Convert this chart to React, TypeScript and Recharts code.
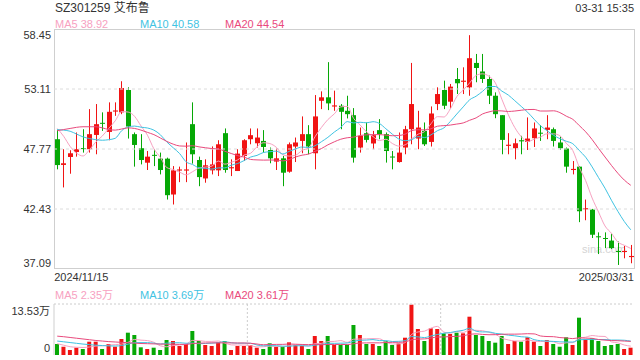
import React from "react";
import { ComposedChart, Bar, Line, XAxis, YAxis, ReferenceLine, CartesianGrid, Cell } from "recharts";

const RED = "#f01414";
const GREEN = "#06a806";
const MA5_COLOR = "#f7a1c1";
const MA10_COLOR = "#3fc3e2";
const MA20_COLOR = "#e94a7d";
const FONT = "Arial, 'Liberation Sans', 'Noto Sans CJK SC', sans-serif";

// trading days per month
const nov = [15, 18, 19, 20, 21, 22, 25, 26, 27, 28, 29];
const dec = [2, 3, 4, 5, 6, 9, 10, 11, 12, 13, 16, 17, 18, 19, 20, 23, 24, 25, 26, 27, 30, 31];
const jan = [2, 3, 6, 7, 8, 9, 10, 13, 14, 15, 16, 17, 20, 21, 22, 23, 24, 27];
const feb = [5, 6, 7, 10, 11, 12, 13, 14, 17, 18, 19, 20, 21, 24, 25, 26, 27, 28];
const mar = [3, 4, 5, 6, 7, 10, 11, 12, 13, 14, 17, 18, 19, 20, 21, 24, 25, 26, 27, 28, 31];

const pad = (d: number) => String(d).padStart(2, "0");
const dates = [
  ...nov.map((d) => `2024/11/${pad(d)}`),
  ...dec.map((d) => `2024/12/${pad(d)}`),
  ...jan.map((d) => `2025/01/${pad(d)}`),
  ...feb.map((d) => `2025/02/${pad(d)}`),
  ...mar.map((d) => `2025/03/${pad(d)}`),
];

const opens = [
  48.64, 46.35, 47.06, 47.5, 47.85, 47.75, 49.02, 50.1, 49.29, 51.1,
  51.03, 53.02, 49.09, 47.84, 46.55, 47.25, 46.91, 46.91, 43.72, 45.85,
  45.85, 49.98, 46.79, 45.15, 45.87, 45.87, 49.18, 46.05, 45.81, 47.15,
  48.64, 48.28, 48.49, 47.68, 46.65, 46.94, 45.75, 47.99, 48.49, 49.09,
  47.39, 52.06, 52.37, 51.55, 51.62, 51.17, 50.78, 47.9, 49.18, 48.26,
  49.45, 49.09, 47.1, 46.61, 47.9, 49.53, 48.7, 49.38, 48.4, 51.77,
  53.02, 51.98, 54.0, 53.75, 53.26, 55.43, 54.67, 54.0, 52.51, 50.78,
  48.05, 47.84, 48.55, 48.4, 48.73, 49.22, 49.47, 49.53, 48.35, 47.81,
  45.9, 46.2, 42.4, 42.38, 40.0, 39.85, 39.62, 38.7, 38.6, 38.15,
];
const highs = [
  49.5, 47.75, 47.66, 49.24, 49.53, 51.32, 51.77, 51.03, 51.92, 51.92,
  53.8, 53.26, 49.24, 49.09, 47.59, 47.75, 47.45, 47.0, 46.25, 46.2,
  48.35, 51.92, 47.09, 46.85, 48.0, 48.55, 49.6, 46.85, 47.75, 48.64,
  49.6, 49.6, 49.45, 47.9, 47.81, 47.15, 48.35, 48.79, 50.67, 49.89,
  52.57, 52.9, 55.5, 52.96, 51.77, 52.51, 51.41, 49.68, 50.13, 49.38,
  50.43, 49.24, 47.59, 49.24, 49.83, 55.43, 51.17, 50.13, 51.56, 53.26,
  53.85, 53.56, 54.98, 55.04, 57.9, 56.23, 56.23, 54.3, 52.81, 50.78,
  49.18, 48.7, 48.94, 50.58, 50.13, 49.89, 50.78, 49.68, 48.88, 47.9,
  46.7, 46.25, 43.27, 42.44, 40.35, 40.35, 40.23, 39.53, 39.14, 39.23,
];
const lows = [
  45.96, 44.35, 45.57, 47.09, 47.45, 47.45, 47.3, 49.38, 48.55, 50.72,
  50.87, 48.7, 46.2, 46.4, 45.9, 46.25, 45.51, 43.27, 42.83, 44.82,
  44.82, 46.47, 44.46, 44.77, 45.51, 45.36, 45.66, 45.36, 45.81, 46.7,
  48.19, 47.9, 47.45, 46.5, 45.9, 44.46, 45.66, 46.61, 47.39, 47.3,
  45.96, 51.32, 51.23, 51.17, 49.53, 50.49, 46.56, 47.45, 48.35, 47.75,
  48.64, 46.56, 45.96, 46.56, 47.3, 48.19, 47.75, 48.04, 47.99, 51.23,
  51.32, 51.38, 52.66, 52.66, 52.51, 53.71, 53.65, 51.77, 50.51, 47.3,
  47.3, 46.85, 47.3, 47.68, 47.95, 48.49, 48.64, 47.99, 47.68, 45.66,
  45.51, 41.26, 41.43, 39.85, 38.42, 38.95, 38.86, 37.45, 38.04, 37.6,
];
const closes = [
  46.34, 46.5, 47.39, 47.75, 47.78, 49.09, 49.98, 50.05, 51.08, 51.2,
  53.2, 49.77, 48.13, 46.79, 47.09, 47.18, 45.9, 43.66, 45.87, 45.95,
  45.95, 47.3, 45.27, 46.32, 46.4, 48.19, 45.9, 46.15, 47.36, 48.55,
  49.0, 48.79, 47.95, 46.94, 46.94, 45.66, 48.19, 48.35, 49.09, 47.99,
  50.67, 52.37, 51.83, 51.65, 51.08, 50.87, 47.0, 48.94, 48.58, 49.0,
  49.09, 47.59, 47.03, 47.45, 49.53, 51.77, 49.68, 48.19, 50.93, 52.66,
  51.62, 53.32, 53.62, 53.85, 55.85, 54.98, 54.0, 52.51, 50.87, 48.58,
  48.15, 48.28, 48.45, 48.7, 49.6, 49.15, 49.68, 48.49, 47.84, 46.2,
  46.0, 42.23, 42.5, 40.14, 39.95, 39.8, 38.95, 38.6, 38.7, 38.25,
];

const ma5 = [
  49.6, 48.9, 48.0, 47.4, 47.15, 47.7, 48.4, 48.93, 49.6, 50.28,
  51.1, 51.06, 50.68, 49.82, 49.0, 47.79, 47.02, 46.12, 45.94, 45.71,
  45.47, 45.75, 46.07, 46.16, 46.25, 46.7, 46.42, 46.59, 46.8, 47.23,
  47.39, 47.97, 48.33, 48.25, 47.92, 47.26, 47.14, 47.22, 47.65, 47.86,
  48.86, 49.69, 50.39, 50.9, 51.52, 51.56, 50.49, 49.91, 49.29, 48.88,
  48.52, 48.64, 48.26, 48.03, 48.14, 48.67, 49.09, 49.32, 50.02, 50.65,
  50.62, 51.34, 52.43, 53.01, 53.65, 54.32, 54.46, 54.24, 53.64, 52.19,
  50.82, 49.68, 48.87, 48.43, 48.64, 48.84, 49.12, 49.12, 48.95, 48.27,
  47.64, 46.15, 44.95, 43.41, 42.16, 40.92, 40.27, 39.49, 39.2, 38.92,
];
const ma10 = [
  49.5, 49.45, 49.35, 49.1, 48.85, 48.7, 48.6, 48.55, 48.6, 48.72,
  49.4, 49.73, 49.81, 49.71, 49.64, 49.45, 49.04, 48.4, 47.88, 47.36,
  46.63, 46.39, 46.1, 46.05, 45.98, 46.09, 46.09, 46.33, 46.48, 46.74,
  47.05, 47.2, 47.46, 47.53, 47.58, 47.33, 47.56, 47.78, 47.95, 47.89,
  48.06, 48.42, 48.81, 49.28, 49.69, 50.21, 50.09, 50.15, 50.1, 50.2,
  50.04, 49.57, 49.09, 48.66, 48.51, 48.6, 48.87, 48.79, 49.03, 49.4,
  49.65, 50.22, 50.88, 51.52, 52.15, 52.47, 52.9, 53.34, 53.33, 52.92,
  52.57, 52.07, 51.56, 51.04, 50.42, 49.83, 49.4, 49.0, 48.69, 48.46,
  48.24, 47.64, 47.04, 46.18, 45.22, 44.28, 43.21, 42.22, 41.31, 40.58,
];
const ma20 = [
  49.4, 49.5, 49.6, 49.7, 49.75, 49.75, 49.75, 49.65, 49.5, 49.45,
  49.55, 49.65, 49.6, 49.45, 49.25, 49.05, 48.75, 48.45, 48.2, 48.04,
  48.02, 48.06, 47.96, 47.88, 47.81, 47.77, 47.57, 47.37, 47.18, 47.05,
  46.84, 46.8, 46.78, 46.79, 46.78, 46.71, 46.83, 47.06, 47.22, 47.32,
  47.56, 47.81, 48.14, 48.41, 48.64, 48.77, 48.83, 48.97, 49.03, 49.05,
  49.05, 49.0, 48.95, 48.97, 49.1, 49.41, 49.48, 49.47, 49.57, 49.8,
  49.85, 49.9, 49.99, 50.09, 50.33, 50.54, 50.89, 51.07, 51.18, 51.16,
  51.11, 51.15, 51.22, 51.28, 51.29, 51.15, 51.15, 51.17, 51.01, 50.69,
  50.41, 49.86, 49.3, 48.61, 47.82, 47.06, 46.31, 45.61, 45.0, 44.54,
];

// volume in 万
const volumes = [
  2.92, 2.2, 1.33, 1.94, 1.59, 3.53, 3.53, 1.59, 2.92, 2.2,
  4.24, 5.92, 5.31, 2.04, 1.59, 1.94, 1.33, 3.98, 3.71, 2.39,
  2.92, 6.37, 3.71, 2.65, 2.39, 3.36, 3.71, 1.33, 2.39, 2.39,
  2.65, 1.94, 1.59, 3.1, 2.2, 2.2, 3.36, 2.65, 2.39, 1.59,
  5.04, 3.71, 5.04, 2.65, 2.65, 2.65, 7.96, 5.31, 2.92, 2.92,
  2.39, 3.71, 2.65, 3.1, 4.59, 13.35, 6.9, 3.71, 7.08, 6.9,
  5.75, 5.57, 5.92, 5.75, 10.16, 5.31, 5.04, 3.71, 3.27, 5.04,
  2.92, 3.71, 3.53, 4.7, 3.53, 2.39, 3.98, 2.92, 2.2, 4.7,
  2.65, 9.9, 4.16, 4.43, 3.71, 2.39, 2.65, 2.92, 1.59, 1.94,
];
const volMa5 = [
  3.0, 2.6, 2.2, 2.05, 2.0, 2.12, 2.38, 2.44, 2.63, 2.75,
  2.9, 3.37, 4.12, 3.94, 3.82, 3.36, 2.44, 2.18, 2.51, 2.67,
  2.87, 3.87, 3.82, 3.61, 3.61, 3.7, 3.16, 2.69, 2.64, 2.64,
  2.49, 2.14, 2.19, 2.33, 2.3, 2.21, 2.49, 2.7, 2.56, 2.44,
  3.01, 3.08, 3.55, 3.61, 3.82, 3.34, 4.19, 4.24, 4.3, 4.35,
  4.3, 3.45, 2.92, 2.95, 3.29, 5.48, 6.12, 6.33, 7.13, 7.59,
  6.07, 5.8, 6.24, 5.98, 6.63, 6.54, 6.44, 5.99, 5.5, 4.47,
  4.0, 3.73, 3.69, 3.98, 3.68, 3.57, 3.63, 3.5, 3.0, 3.24,
  3.29, 4.47, 4.72, 5.17, 4.97, 4.92, 3.47, 3.22, 2.65, 2.35,
];
const volMa10 = [
  3.7, 3.5, 3.3, 3.1, 2.9, 2.75, 2.6, 2.5, 2.42, 2.38,
  2.51, 2.88, 3.28, 3.29, 3.29, 3.13, 2.91, 3.15, 3.23, 3.25,
  3.12, 3.16, 3.0, 3.06, 3.14, 3.29, 3.52, 3.26, 3.13, 3.13,
  3.1, 2.65, 2.44, 2.49, 2.47, 2.35, 2.32, 2.45, 2.45, 2.37,
  2.61, 2.79, 3.13, 3.09, 3.13, 3.18, 3.64, 3.9, 3.96, 4.09,
  3.82, 3.82, 3.58, 3.63, 3.82, 4.89, 4.79, 4.63, 5.04, 5.44,
  5.78, 5.96, 6.29, 6.56, 7.11, 6.31, 6.12, 6.12, 5.74, 5.55,
  5.27, 5.09, 4.84, 4.74, 4.08, 3.79, 3.68, 3.6, 3.49, 3.46,
  3.43, 4.05, 4.11, 4.09, 4.11, 4.11, 3.97, 3.97, 3.91, 3.69,
];
const volMa20 = [
  5.0, 4.85, 4.65, 4.45, 4.25, 4.05, 3.85, 3.7, 3.55, 3.45,
  3.35, 3.25, 3.15, 3.05, 3.0, 2.95, 2.9, 2.85, 2.83, 2.82,
  2.82, 3.02, 3.14, 3.18, 3.22, 3.21, 3.22, 3.21, 3.18, 3.19,
  3.11, 2.91, 2.72, 2.78, 2.81, 2.82, 2.92, 2.86, 2.79, 2.75,
  2.86, 2.72, 2.79, 2.79, 2.8, 2.77, 2.98, 3.18, 3.21, 3.23,
  3.22, 3.31, 3.36, 3.36, 3.48, 4.04, 4.22, 4.27, 4.5, 4.77,
  4.8, 4.89, 4.94, 5.1, 5.47, 5.6, 5.46, 5.38, 5.39, 5.5,
  5.53, 5.53, 5.57, 5.65, 5.6, 5.05, 4.9, 4.86, 4.62, 4.51,
  4.35, 4.57, 4.48, 4.42, 4.1, 3.95, 3.83, 3.79, 3.7, 3.61,
];

const priceTicks = [37.09, 42.43, 47.77, 53.11, 58.45];
const volTicks = [0, 13.53];

const data = dates.map((date, i) => ({
  date,
  open: opens[i],
  high: highs[i],
  low: lows[i],
  close: closes[i],
  ma5: ma5[i],
  ma10: ma10[i],
  ma20: ma20[i],
  vol: volumes[i],
  vma5: volMa5[i],
  vma10: volMa10[i],
  vma20: volMa20[i],
}));

function Candle(props: any) {
  const { x, y, width, height, payload } = props;
  const { open, close, high, low } = payload;
  const color = close >= open ? RED : GREEN;
  const h = Math.abs(height);
  const y0 = height < 0 ? y + height : y;
  const k = h / (high - low);
  const top = y0 + (high - Math.max(open, close)) * k;
  const bodyH = Math.max(1, Math.abs(open - close) * k);
  const cx = Math.floor(x + width / 2) + 0.5;
  return (
    <g>
      <line x1={cx} x2={cx} y1={y0} y2={y0 + h} stroke={color} strokeWidth={1} />
      <rect x={cx - 2.5} y={top} width={5} height={bodyH} fill={color} />
    </g>
  );
}

function PriceTick(props: any) {
  const { x, y, payload } = props;
  const v = payload.value;
  let dy = 4;
  if (v === priceTicks[priceTicks.length - 1]) dy = 10;
  if (v === priceTicks[0]) dy = -2;
  return (
    <text x={x} y={y} dy={dy} textAnchor="end" fontSize={11} fill="#333" fontFamily={FONT}>
      {v.toFixed(2)}
    </text>
  );
}

function VolTick(props: any) {
  const { x, y, payload } = props;
  const v = payload.value;
  const top = v === volTicks[volTicks.length - 1];
  return (
    <text x={x} y={y} dy={top ? 11 : -3} textAnchor="end" fontSize={11} fill="#333" fontFamily={FONT}>
      {v === 0 ? "0" : `${v.toFixed(2)}万`}
    </text>
  );
}

function DateTick(props: any) {
  const { x, y, payload, index } = props;
  const first = index === 0;
  return (
    <text
      x={first ? x - 3 : x + 3}
      y={y}
      dy={12}
      textAnchor={first ? "start" : "end"}
      fontSize={11}
      fill="#333"
      fontFamily={FONT}
    >
      {payload.value}
    </text>
  );
}

export default function App() {
  return (
    <div style={{ position: "absolute", left: 0, top: 0, width: 640, height: 360, background: "#fff", fontFamily: FONT }}>
      <svg width={640} height={360} style={{ position: "absolute", left: 0, top: 0 }}>
        <text x={55} y={12} fontSize={12} fill="#333">SZ301259 艾布鲁</text>
        <text x={634} y={12} fontSize={11} fill="#333" textAnchor="end">03-31 15:35</text>
        <text x={55} y={28} fontSize={11} fill={MA5_COLOR}>MA5 38.92</text>
        <text x={140} y={28} fontSize={11} fill={MA10_COLOR}>MA10 40.58</text>
        <text x={225} y={28} fontSize={11} fill={MA20_COLOR}>MA20 44.54</text>
        <text x={55} y={299} fontSize={11} fill={MA5_COLOR}>MA5 2.35万</text>
        <text x={140} y={299} fontSize={11} fill={MA10_COLOR}>MA10 3.69万</text>
        <text x={225} y={299} fontSize={11} fill={MA20_COLOR}>MA20 3.61万</text>
        <text x={582} y={253} fontSize={11} fill="#d4d4d4">sina.com</text>
      </svg>
      <div
        style={{
          position: "absolute",
          left: 54,
          top: 29,
          width: 581,
          height: 240,
          boxSizing: "border-box",
          border: "1px solid #cfcfcf",
        }}
      />
      <div style={{ position: "absolute", left: 0, top: 0 }}>
        <ComposedChart width={640} height={283} data={data} margin={{ top: 29, right: 6, bottom: 0, left: 0 }}>
          <XAxis
            dataKey="date"
            height={14}
            axisLine={false}
            tickLine={false}
            tickSize={0}
            tickMargin={0}
            ticks={[dates[0], dates[dates.length - 1]]}
            interval={0}
            tick={<DateTick />}
          />
          <YAxis
            width={54}
            domain={[priceTicks[0], priceTicks[priceTicks.length - 1]]}
            ticks={priceTicks}
            interval={0}
            axisLine={false}
            tickLine={false}
            tickSize={0}
            tickMargin={3}
            tick={<PriceTick />}
            allowDataOverflow
          />
          {priceTicks.slice(1, -1).map((t) => (
            <ReferenceLine key={t} y={t} stroke="#dcdcdc" strokeDasharray="3 3" />
          ))}
          <Bar dataKey={(d: any) => [d.low, d.high]} barSize={5} shape={<Candle />} isAnimationActive={false} />
          <Line type="monotone" dataKey="ma5" stroke={MA5_COLOR} strokeWidth={1} dot={false} activeDot={false} isAnimationActive={false} />
          <Line type="monotone" dataKey="ma10" stroke={MA10_COLOR} strokeWidth={1} dot={false} activeDot={false} isAnimationActive={false} />
          <Line type="monotone" dataKey="ma20" stroke={MA20_COLOR} strokeWidth={1} dot={false} activeDot={false} isAnimationActive={false} />
        </ComposedChart>
      </div>
      <div style={{ position: "absolute", left: 0, top: 300 }}>
        <ComposedChart width={640} height={60} data={data} margin={{ top: 4, right: 6, bottom: 5, left: 0 }}>
          <CartesianGrid
            horizontal={false}
            stroke="#cccccc"
            strokeDasharray="2 2"
            verticalCoordinatesGenerator={({ offset }: any) => [
              offset.left + offset.width / 3,
              offset.left + (2 * offset.width) / 3,
            ]}
          />
          <XAxis dataKey="date" hide />
          <YAxis
            width={54}
            domain={[volTicks[0], volTicks[1]]}
            ticks={volTicks}
            interval={0}
            axisLine={{ stroke: "#cfcfcf" }}
            tickLine={false}
            tickSize={0}
            tickMargin={4}
            tick={<VolTick />}
          />
          <ReferenceLine y={volTicks[1]} stroke="#cccccc" strokeDasharray="2 2" />
          <Bar dataKey="vol" barSize={4} isAnimationActive={false}>
            {data.map((d, i) => (
              <Cell key={i} fill={d.close >= d.open ? RED : GREEN} />
            ))}
          </Bar>
          <Line type="monotone" dataKey="vma5" stroke={MA5_COLOR} strokeWidth={1} dot={false} activeDot={false} isAnimationActive={false} />
          <Line type="monotone" dataKey="vma10" stroke={MA10_COLOR} strokeWidth={1} dot={false} activeDot={false} isAnimationActive={false} />
          <Line type="monotone" dataKey="vma20" stroke={MA20_COLOR} strokeWidth={1} dot={false} activeDot={false} isAnimationActive={false} />
        </ComposedChart>
      </div>
    </div>
  );
}
